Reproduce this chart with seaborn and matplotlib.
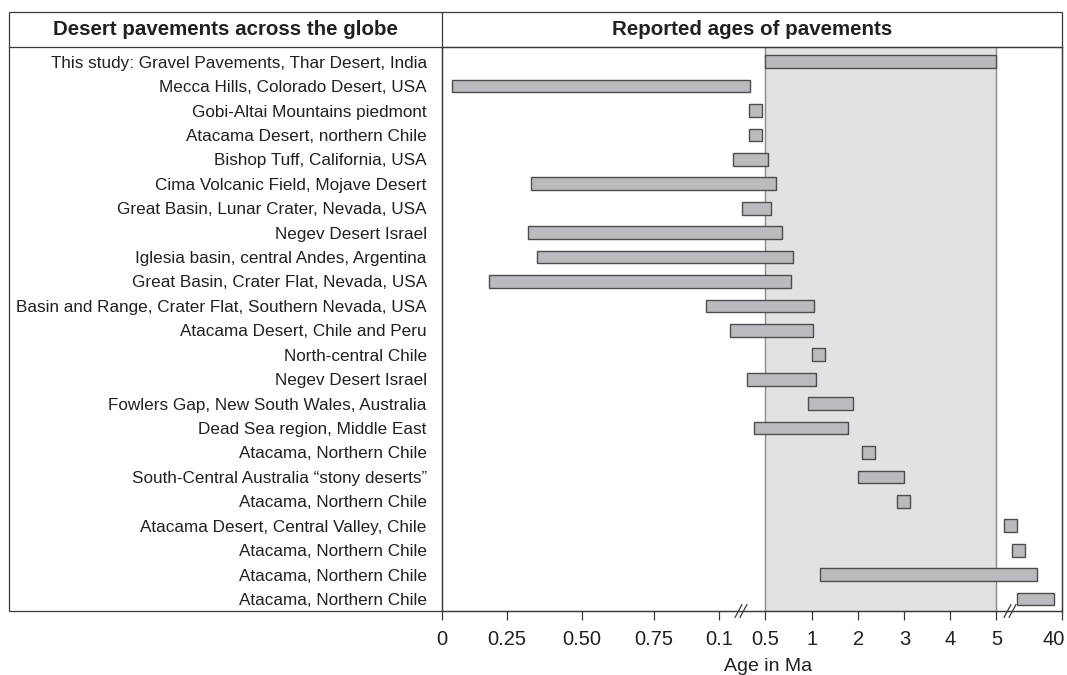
import numpy as np
import pandas as pd
import matplotlib
matplotlib.use("Agg")
import matplotlib.pyplot as plt
import seaborn as sns
from matplotlib.lines import Line2D
from matplotlib.patches import Rectangle
from matplotlib.transforms import offset_copy

# ---------------- data ----------------
locations = [
    "This study: Gravel Pavements, Thar Desert, India",
    "Mecca Hills, Colorado Desert, USA",
    "Gobi-Altai Mountains piedmont",
    "Atacama Desert, northern Chile",
    "Bishop Tuff, California, USA",
    "Cima Volcanic Field, Mojave Desert",
    "Great Basin, Lunar Crater, Nevada, USA",
    "Negev Desert Israel",
    "Iglesia basin, central Andes, Argentina",
    "Great Basin, Crater Flat, Nevada, USA",
    "Basin and Range, Crater Flat, Southern Nevada, USA",
    "Atacama Desert, Chile and Peru",
    "North-central Chile",
    "Negev Desert Israel",
    "Fowlers Gap, New South Wales, Australia",
    "Dead Sea region, Middle East",
    "Atacama, Northern Chile",
    "South-Central Australia \u201cstony deserts\u201d",
    "Atacama, Northern Chile",
    "Atacama Desert, Central Valley, Chile",
    "Atacama, Northern Chile",
    "Atacama, Northern Chile",
    "Atacama, Northern Chile",
]
age_start = [0.5, 0.004, 0.36, 0.36, 0.22, 0.033, 0.30, 0.032, 0.035, 0.018,
             0.095, 0.19, 1.0, 0.34, 0.95, 0.40, 2.09, 2.0, 2.85, 9.3, 13.6, 1.17, 16.3]
age_end = [5.0, 0.37, 0.47, 0.47, 0.53, 0.61, 0.56, 0.68, 0.80, 0.77,
           1.04, 1.01, 1.28, 1.09, 1.88, 1.78, 2.36, 2.99, 3.13, 16.3, 20.6, 26.9, 36.1]

tick_values = [0, 0.025, 0.05, 0.075, 0.1, 0.5, 1, 2, 3, 4, 5, 40]
tick_labels = ["0", "0.25", "0.50", "0.75", "0.1", "0.5", "1", "2", "3", "4", "5", "40"]
# broken-axis scale definition (relative display distance of each tick value)
scale_knots = [0, 65, 140, 212, 277, 323, 370, 416, 462, 508, 554, 619]

highlight_range = (0.5, 5)

# ---------------- style ----------------
sns.set_theme(style="white")
plt.rcParams["font.family"] = ["Liberation Sans", "DejaVu Sans"]
text_color = "#231f20"
line_color = "#3a3a3a"

W, H = 1067, 675
fig = plt.figure(figsize=(W / 100, H / 100), dpi=100)

def fx(px):
    return px / W

def fy(py):
    return 1 - py / H

ax_left, ax_right, ax_top, ax_bottom = 442, 1061.5, 47, 611
ax = fig.add_axes([fx(ax_left), fy(ax_bottom), fx(ax_right - ax_left), (ax_bottom - ax_top) / H])

df = pd.DataFrame({
    "row": np.arange(len(locations)),
    "start": age_start,
    "span": np.subtract(age_end, age_start),
})

sns.barplot(data=df, y="row", x="span", orient="y", left=df["start"].to_numpy(),
            width=0.52, color="#babbbf", saturation=1, edgecolor="#4d4d4d",
            linewidth=1.0, errorbar=None, ax=ax, zorder=3)

ax.set_xscale("function", functions=(lambda x: np.interp(x, tick_values, scale_knots),
                                     lambda y: np.interp(y, scale_knots, tick_values)))
ax.set_xlim(0, 40)
ax.set_ylim(len(locations) - 1 + 0.49, -0.60)

ax.axvspan(*highlight_range, color="#e1e2e4", zorder=0, lw=0)
for v in highlight_range:
    ax.axvline(v, color="#8a8a8a", lw=1.0, zorder=1)

ax.set_xticks(tick_values, tick_labels)
ax.set_yticks(df["row"], locations)
ax.tick_params(axis="x", direction="out", length=6.5, width=0.9, color=line_color,
               labelsize=14.5, labelcolor=text_color, pad=7, bottom=True)
ax.tick_params(axis="y", length=0, pad=11, labelsize=12.3, labelcolor=text_color)
xt = ax.get_xticklabels()
xt[-1].set_horizontalalignment("right")
xt[-1].set_transform(offset_copy(xt[-1].get_transform(), fig=fig, x=3, units="dots"))
ax.set_ylabel("")
ax.set_xlabel("Age in Ma", fontsize=14, color=text_color)
ax.xaxis.set_label_coords(0.527, -0.084)

for s in ax.spines.values():
    s.set_color(line_color)
    s.set_linewidth(0.9)
    s.set_visible(True)

# table frame
fig.add_artist(Rectangle((fx(9), fy(ax_bottom)), fx(ax_right - 9), (ax_bottom - 12) / H,
                         transform=fig.transFigure, fill=False, lw=0.9, edgecolor=line_color))
fig.add_artist(Line2D([fx(9), fx(ax_right)], [fy(ax_top), fy(ax_top)],
                      transform=fig.transFigure, lw=0.9, color=line_color))
fig.add_artist(Line2D([fx(ax_left), fx(ax_left)], [fy(12), fy(ax_bottom)],
                      transform=fig.transFigure, lw=0.9, color=line_color))

fig.text(fx(225.5), fy(29.5), "Desert pavements across the globe", ha="center", va="center",
         fontsize=14.8, fontweight="bold", color=text_color)
fig.text(fx(752), fy(29.5), "Reported ages of pavements", ha="center", va="center",
         fontsize=14.8, fontweight="bold", color=text_color)

# axis break marks
for bx in (741, 1010):
    for off in (-2.5, 2.5):
        fig.add_artist(Line2D([fx(bx + off - 3.5), fx(bx + off + 3.5)],
                              [fy(ax_bottom + 6.5), fy(ax_bottom - 6.5)],
                              transform=fig.transFigure, lw=0.9, color=line_color))

fig.savefig("out.png", dpi=100)
